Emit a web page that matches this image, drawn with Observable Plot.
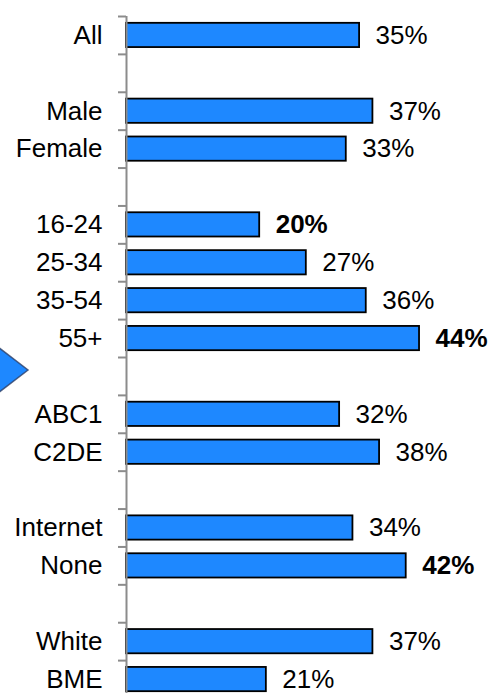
<!DOCTYPE html>
<html>
<head>
<meta charset="utf-8">
<script src="https://cdn.jsdelivr.net/npm/d3@7"></script>
<script src="https://cdn.jsdelivr.net/npm/@observablehq/plot@0.6"></script>
<style>
  html, body { margin: 0; padding: 0; background: #fff; }
  #chart { position: relative; width: 489px; height: 693px; overflow: hidden; }
  #chart svg { font-family: "Liberation Sans", Arial, sans-serif; }
</style>
</head>
<body>
<div id="chart"></div>
<script>
// Slots, top to bottom ("" = empty gap slot)
const categories = ["All", "", "Male", "Female", "", "16-24", "25-34", "35-54", "55+", "", "ABC1", "C2DE", "", "Internet", "None", "", "White", "BME"];
const values     = [35, null, 37, 33, null, 20, 27, 36, 44, null, 32, 38, null, 34, 42, null, 37, 21];
const highlighted = ["16-24", "55+", "None"];

const rows = categories
  .map((category, i) => ({category, value: values[i], i, bold: highlighted.includes(categories[i])}))
  .filter(d => d.value != null);

const yMid = d => d.i + 0.5;

const chart = Plot.plot({
  width: 489,
  height: 693,
  marginLeft: 126,
  marginRight: 30,
  marginTop: 16,
  marginBottom: 0,
  style: {fontFamily: "'Liberation Sans', Arial, sans-serif", overflow: "hidden"},
  x: {domain: [0, 50], axis: null},
  y: {domain: [0, categories.length], range: [16, 698], axis: null},
  marks: [
    Plot.rectX(rows, {
      x1: 0, x2: "value",
      y1: d => d.i + 0.18, y2: d => d.i + 0.82,
      fill: "#1E88FF", stroke: "#000", strokeWidth: 1.8
    }),
    Plot.axisY({
      ticks: d3.range(0, categories.length + 1),
      tickSize: 8,
      tickFormat: () => "",
      label: null,
      stroke: "#8c8c8c",
      strokeWidth: 2,
      strokeOpacity: 1
    }),
    Plot.ruleX([0], {stroke: "#8c8c8c", strokeWidth: 2}),
    Plot.text(rows, {
      x: 0, y: yMid, text: "category",
      textAnchor: "end", dx: -24, fontSize: 26, fill: "#000"
    }),
    Plot.text(rows.filter(d => !d.bold), {
      x: "value", y: yMid, text: d => d.value + "%",
      textAnchor: "start", dx: 16, fontSize: 26, fill: "#000"
    }),
    Plot.text(rows.filter(d => d.bold), {
      x: "value", y: yMid, text: d => d.value + "%",
      textAnchor: "start", dx: 16, fontSize: 26, fontWeight: "bold", fill: "#000"
    })
  ]
});

// decorative pointer arrow at left edge
d3.select(chart).append("polygon")
  .attr("points", "-2,347 28,370 -2,393")
  .attr("fill", "#1E88FF")
  .attr("stroke", "#2d3f66")
  .attr("stroke-width", 1.5)
  .attr("stroke-opacity", 0.8);

document.getElementById("chart").appendChild(chart);
</script>
</body>
</html>
